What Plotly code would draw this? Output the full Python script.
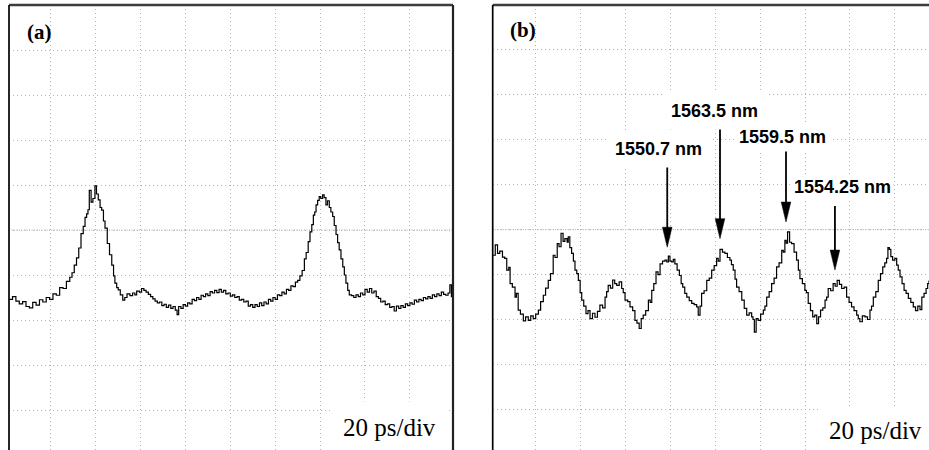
import plotly.graph_objects as go

# ---------------- data (time in ps, amplitude in divisions) ----------------
time_a = [1.5, 3, 4.5, 6, 7.5, 9, 10.5, 12, 13.5, 15, 16.5, 18, 19.5, 21, 22.5, 24, 25.5, 27, 28.5, 29.5,
          30.5, 31.5, 32.5, 33.5, 34.5, 35.3, 36.0, 36.6, 37.2, 38.0, 38.8, 39.7, 40.4, 41.2, 42.0, 42.7,
          43.5, 44.2, 45.2, 46.2, 47.2, 48.0, 48.6, 49.4, 50.1, 51.0, 52.1, 53.0, 54.0, 55.3, 56.5, 57.5,
          58.3, 59.5, 60.5, 61.5, 62.5, 63.5, 64.5, 65.5, 66.5, 67.5, 68.5, 69.5, 70.5, 71.5, 72.5, 73.5,
          74.5, 75.5, 76.3, 77.0, 78.0, 79.0, 80.0, 81.0, 82.0, 83.0, 84.0, 85.0, 86.0, 87.0, 88.0, 89.0,
          90.0, 91.0, 92.0, 93.0, 94.0, 95.0, 96.0, 97.0, 98.0, 99.0, 100.0, 101.0, 102.0, 103.0, 104.0,
          105.0, 106.0, 107.0, 108.0, 109.0, 110.0, 111.0, 112.0, 113.0, 114.0, 115.0, 116.0, 117.0, 118.0,
          119.0, 120.0, 121.0, 122.0, 123.0, 124.0, 125.0, 126.0, 127.0, 128.0, 129.0, 130.0, 131.0, 132.0,
          133.0, 133.8, 134.7, 135.5, 136.3, 137.0, 137.6, 138.2, 138.9, 139.6, 140.3, 141.1, 141.8, 142.6,
          143.3, 144.1, 144.8, 145.6, 146.3, 147.1, 147.8, 148.5, 149.3, 150.1, 150.8, 151.5, 152.3, 153.0,
          154.0, 155.0, 156.0, 157.0, 158.0, 159.0, 160.0, 161.0, 162.0, 163.0, 164.0, 165.0, 166.0, 167.0,
          168.0, 169.0, 170.0, 171.0, 172.0, 173.0, 174.0, 175.0, 176.0, 177.0, 178.0, 179.0, 180.0, 181.0,
          182.0, 183.0, 184.0, 185.0, 186.0, 187.0, 188.0, 189.0, 190.0, 191.0, 192.0, 193.0, 194.0, 195.0,
          196.0, 197.0, 197.8, 198.5, 199.2]
amp_a = [3.46, 3.52, 3.42, 3.36, 3.41, 3.30, 3.27, 3.39, 3.33, 3.45, 3.40, 3.50, 3.46, 3.58, 3.55, 3.72,
         3.70, 3.86, 3.95, 4.05, 4.22, 4.38, 4.60, 4.92, 5.08, 5.28, 5.36, 5.45, 5.88, 5.62, 5.70, 5.98,
         5.80, 5.67, 5.50, 5.44, 5.20, 5.04, 4.70, 4.45, 4.22, 3.98, 3.82, 3.72, 3.67, 3.56, 3.44, 3.50,
         3.58, 3.54, 3.60, 3.56, 3.64, 3.62, 3.70, 3.66, 3.62, 3.57, 3.52, 3.47, 3.42, 3.38, 3.40, 3.32,
         3.35, 3.28, 3.33, 3.26, 3.30, 3.22, 3.12, 3.30, 3.26, 3.34, 3.31, 3.38, 3.36, 3.46, 3.43, 3.50,
         3.46, 3.55, 3.52, 3.58, 3.54, 3.63, 3.60, 3.66, 3.61, 3.68, 3.62, 3.66, 3.58, 3.60, 3.53, 3.56,
         3.50, 3.52, 3.44, 3.46, 3.40, 3.42, 3.31, 3.34, 3.28, 3.34, 3.30, 3.38, 3.32, 3.40, 3.36, 3.46,
         3.42, 3.50, 3.46, 3.56, 3.54, 3.62, 3.58, 3.68, 3.66, 3.76, 3.74, 3.84, 3.88, 3.98, 4.10, 4.36,
         4.50, 4.74, 4.96, 5.12, 5.33, 5.40, 5.56, 5.66, 5.74, 5.70, 5.78, 5.72, 5.56, 5.65, 5.50, 5.40,
         5.30, 5.10, 4.90, 4.72, 4.56, 4.36, 4.18, 4.00, 3.82, 3.66, 3.56, 3.54, 3.50, 3.56, 3.52, 3.60,
         3.56, 3.68, 3.62, 3.70, 3.60, 3.64, 3.52, 3.48, 3.40, 3.42, 3.34, 3.36, 3.28, 3.30, 3.20, 3.31,
         3.26, 3.32, 3.28, 3.36, 3.32, 3.38, 3.35, 3.44, 3.40, 3.46, 3.43, 3.50, 3.47, 3.52, 3.48, 3.56,
         3.52, 3.58, 3.54, 3.62, 3.57, 3.55, 3.60, 3.78, 3.52, 3.55]

time_b = [1.0, 2.0, 3.0, 4.0, 5.2, 6.2, 7.1, 8.0, 8.6, 9.6, 10.8, 11.4, 12.2, 13.2, 14.5, 15.5, 16.7, 17.8,
          18.9, 20.0, 21.2, 22.2, 23.4, 24.4, 25.6, 26.6, 27.8, 28.6, 29.6, 30.4, 31.3, 32.2, 33.0, 34.0,
          34.5, 35.2, 36.0, 36.8, 37.5, 38.3, 39.0, 39.8, 40.5, 41.4, 42.4, 43.3, 44.2, 45.3, 46.4, 47.5,
          48.6, 49.8, 50.9, 51.6, 52.3, 53.3, 54.3, 55.2, 56.1, 57.2, 58.3, 59.0, 59.8, 61.0, 62.0, 63.2,
          64.2, 65.1, 66.1, 67.0, 67.9, 69.0, 70.2, 71.0, 71.7, 72.6, 73.6, 74.5, 75.4, 76.5, 77.6, 78.4,
          79.1, 79.8, 80.6, 81.3, 82.0, 83.0, 84.0, 84.8, 85.5, 86.4, 87.3, 88.4, 89.5, 90.6, 91.7, 92.4,
          93.2, 93.9, 95.0, 96.2, 97.3, 98.4, 99.5, 100.6, 101.3, 102.1, 103.2, 104.3, 105.4, 106.5, 107.2,
          108.0, 108.8, 109.5, 110.6, 111.8, 112.9, 114.0, 115.1, 116.2, 116.8, 117.4, 118.2, 119.1, 120.2,
          121.4, 122.1, 122.9, 124.0, 125.1, 126.2, 127.3, 128.4, 129.6, 130.3, 131.0, 131.6, 132.2, 133.1,
          134.0, 135.1, 136.2, 137.0, 137.7, 138.8, 139.9, 140.6, 141.4, 142.4, 143.4, 144.3, 145.2, 146.0,
          146.9, 147.9, 148.9, 149.6, 150.3, 151.4, 152.5, 153.4, 154.3, 155.3, 156.3, 157.4, 158.5, 159.6,
          160.7, 161.8, 163.0, 163.7, 164.4, 165.5, 166.7, 167.8, 168.9, 169.6, 170.4, 171.5, 172.6, 173.6,
          174.6, 175.5, 176.3, 176.9, 177.5, 178.2, 179.0, 180.0, 180.8, 181.5, 182.3, 183.2, 184.1, 185.0,
          186.0, 187.1, 188.2, 189.2, 190.2, 191.2, 192.0, 193.0, 193.9, 194.6, 195.2]
amp_b = [4.43, 4.66, 4.47, 4.52, 4.39, 4.36, 4.10, 4.16, 3.80, 3.72, 3.50, 3.58, 3.21, 3.12, 2.97, 3.06,
         2.98, 3.08, 3.02, 3.12, 3.21, 3.40, 3.54, 3.70, 3.87, 4.02, 4.43, 4.38, 4.69, 4.62, 4.92, 4.74,
         4.80, 4.72, 4.84, 4.60, 4.47, 4.30, 4.10, 4.02, 3.87, 3.60, 3.43, 3.30, 3.13, 3.20, 3.02, 3.14,
         3.05, 3.18, 3.32, 3.26, 3.50, 3.62, 3.76, 3.70, 3.88, 3.80, 3.76, 3.84, 3.69, 3.60, 3.43, 3.40,
         3.28, 3.20, 2.98, 2.92, 2.80, 3.02, 3.10, 3.20, 3.43, 3.38, 3.65, 3.80, 4.06, 4.00, 4.24, 4.30,
         4.32, 4.28, 4.41, 4.30, 4.28, 4.34, 4.24, 4.10, 3.98, 3.80, 3.72, 3.58, 3.50, 3.42, 3.36, 3.33,
         3.28, 3.10, 3.30, 3.58, 3.64, 3.87, 3.92, 4.10, 4.20, 4.36, 4.30, 4.56, 4.50, 4.47, 4.38, 4.32,
         4.22, 4.10, 3.90, 3.72, 3.62, 3.43, 3.25, 3.10, 3.15, 3.06, 3.00, 2.72, 3.02, 2.98, 3.12, 3.21,
         3.30, 3.50, 3.62, 3.80, 3.92, 4.17, 4.26, 4.54, 4.50, 4.76, 4.70, 4.95, 4.72, 4.69, 4.50, 4.32,
         4.10, 3.91, 3.80, 3.65, 3.60, 3.36, 3.20, 3.06, 3.10, 2.91, 3.06, 3.21, 3.26, 3.43, 3.50, 3.69,
         3.64, 3.80, 3.74, 3.87, 3.78, 3.69, 3.72, 3.50, 3.38, 3.28, 3.20, 3.10, 3.02, 2.95, 3.08, 3.06,
         3.00, 3.21, 3.30, 3.50, 3.62, 3.87, 4.02, 4.17, 4.26, 4.36, 4.60, 4.56, 4.40, 4.32, 4.36, 4.21,
         4.10, 3.95, 3.80, 3.65, 3.58, 3.47, 3.38, 3.28, 3.20, 3.30, 3.22, 3.50, 3.58, 3.69, 3.80, 3.87]

panel_labels = ["(a)", "(b)"]
scale_label = "20 ps/div"
wavelength_labels = ["1550.7 nm", "1563.5 nm", "1559.5 nm", "1554.25 nm"]
label_t = [74.8, 99.6, 130.1, 156.6]
label_v = [6.80, 7.65, 7.07, 5.94]
label_pad = [8, 8, 4, 2]
arrow_tip_t = [78.6, 102.1, 131.5, 153.3]
arrow_tip_v = [4.61, 4.80, 5.17, 4.10]
arrow_len_px = [88, 112, 75, 64]

# ---------------- layout geometry ----------------
W, H = 929, 450
xa_dom = [9 / W, 453 / W]
xb_dom = [492.7 / W, 1.0]
ydom = [0.0, 1 - 5 / H]
xa_rng = [1.43, 199.2]
xb_rng = [0.85, 195.2]
ya_rng = [0.111, 10.0]
yb_rng = [0.096, 10.0]

fig = go.Figure()
fig.add_trace(go.Scatter(x=time_a, y=amp_a, mode="lines", line=dict(color="black", width=1.2, shape="hv"),
                         xaxis="x", yaxis="y", showlegend=False, hoverinfo="skip"))
fig.add_trace(go.Scatter(x=time_b, y=amp_b, mode="lines", line=dict(color="black", width=1.2, shape="hv"),
                         xaxis="x2", yaxis="y2", showlegend=False, hoverinfo="skip"))

grid = dict(showgrid=True, gridcolor="#b4b4b4", griddash="1px,3px", gridwidth=1, showticklabels=False,
            ticks="", zeroline=False, showline=False, fixedrange=True)
fig.update_layout(
    width=W, height=H, margin=dict(l=0, r=0, t=0, b=0, pad=0),
    paper_bgcolor="white", plot_bgcolor="white",
    xaxis=dict(domain=xa_dom, range=xa_rng, dtick=20, tick0=0, anchor="y", **grid),
    yaxis=dict(domain=ydom, range=ya_rng, dtick=1, tick0=0, anchor="x", **grid),
    xaxis2=dict(domain=xb_dom, range=xb_rng, dtick=20, tick0=0, anchor="y2", **grid),
    yaxis2=dict(domain=ydom, range=yb_rng, dtick=1, tick0=0, anchor="x2", **grid),
)

shapes = []
# denser centre line
for xr, yr, rng in (("x", "y", xa_rng), ("x2", "y2", xb_rng)):
    shapes.append(dict(type="line", xref=xr, yref=yr, x0=rng[0], x1=rng[1], y0=5, y1=5,
                       line=dict(color="#a8a8a8", width=1, dash="1px,1.5px"), layer="below"))
# frame borders (paper coordinates)
top = ydom[1]
for dom, right in ((xa_dom, True), (xb_dom, False)):
    shapes.append(dict(type="line", xref="paper", yref="paper", x0=dom[0], x1=dom[1], y0=top, y1=top,
                       line=dict(color="#3c3c3c", width=2.5), layer="above"))
    shapes.append(dict(type="line", xref="paper", yref="paper", x0=dom[0], x1=dom[0], y0=0, y1=top,
                       line=dict(color="black", width=1.7), layer="above"))
    if right:
        shapes.append(dict(type="line", xref="paper", yref="paper", x0=dom[1], x1=dom[1], y0=0, y1=top,
                           line=dict(color="#222222", width=2.2), layer="above"))

# arrows (pixel sizes converted to data units)
kx = (xb_dom[1] - xb_dom[0]) * W / (xb_rng[1] - xb_rng[0])
ky = (ydom[1] - ydom[0]) * H / (yb_rng[1] - yb_rng[0])
head_len, head_hw = 20, 4.8
for t, v, L in zip(arrow_tip_t, arrow_tip_v, arrow_len_px):
    shapes.append(dict(type="line", xref="x2", yref="y2", x0=t, x1=t, y0=v + L / ky, y1=v + (head_len - 2) / ky,
                       line=dict(color="black", width=1.8), layer="above"))
    path = (f"M {t - head_hw / kx},{v + head_len / ky} L {t + head_hw / kx},{v + head_len / ky} "
            f"L {t},{v} Z")
    shapes.append(dict(type="path", xref="x2", yref="y2", path=path, fillcolor="black",
                       line=dict(color="black", width=0.5), layer="above"))
fig.update_layout(shapes=shapes)

ann = []
serif = "Liberation Serif, Times New Roman, serif"
sans = "Liberation Sans, Arial, sans-serif"


def px_x(p):
    return p / W


def px_y(p):
    return 1 - p / H


common = dict(xref="paper", yref="paper", showarrow=False, xanchor="center", yanchor="middle")
ann.append(dict(x=px_x(39), y=px_y(32), text=f"<b>{panel_labels[0]}</b>",
                font=dict(family=serif, size=21, color="black"), **common))
ann.append(dict(x=px_x(522.7), y=px_y(30), text=f"<b>{panel_labels[1]}</b>",
                font=dict(family=serif, size=21, color="black"), **common))
ann.append(dict(x=px_x(389), y=px_y(427), text=scale_label,
                font=dict(family=serif, size=25, color="black"), bgcolor="white", borderpad=12, **common))
ann.append(dict(x=px_x(875), y=px_y(430), text=scale_label,
                font=dict(family=serif, size=25, color="black"), bgcolor="white", borderpad=10, **common))
for txt, t, v, pad in zip(wavelength_labels, label_t, label_v, label_pad):
    ann.append(dict(xref="x2", yref="y2", x=t, y=v, text=f"<b>{txt}</b>", showarrow=False,
                    xanchor="center", yanchor="middle",
                    font=dict(family=sans, size=18, color="black"), bgcolor="white", borderpad=pad))
fig.update_layout(annotations=ann)

fig.write_html("out.html")
